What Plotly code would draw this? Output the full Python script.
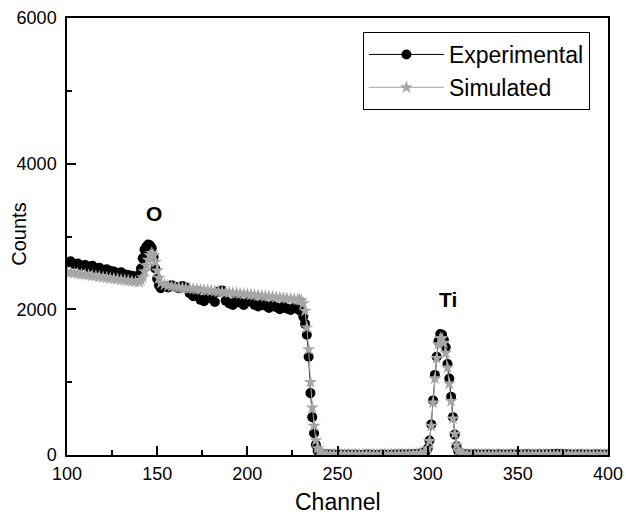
import plotly.graph_objects as go

channel = (list(range(100, 140, 2)) + list(range(140, 153)) + list(range(154, 228, 2))
           + list(range(228, 243)) + list(range(244, 298, 2)) + list(range(298, 321))
           + list(range(322, 401, 2)))

experimental = [
    2640, 2660, 2620, 2630, 2600, 2610, 2580, 2600, 2560, 2570, 2540, 2550, 2530, 2520, 2500, 2510, 2480, 2470, 2460, 2450,
    2470, 2560, 2700, 2820, 2860, 2890, 2880, 2840, 2720, 2560, 2420, 2330, 2290,
    2320, 2300, 2330, 2310, 2290, 2320, 2300, 2220, 2180, 2250, 2130, 2110, 2200, 2150, 2100, 2240, 2260, 2120, 2080,
    2060, 2150, 2090, 2060, 2100, 2140, 2060, 2040, 2090, 2050, 2020, 2060, 2030, 2000, 2040, 2010, 1990, 2020,
    2000, 1990, 1970, 1900, 1800, 1650, 1350, 850, 520, 300, 140, 60, 30, 15, 10,
    10, 8, 6, 5, 8, 4, 6, 5, 7, 4, 5, 6, 8, 5, 4, 6, 7, 5, 6, 8, 6, 9, 7, 10, 12, 15, 20,
    30, 50, 90, 200, 420, 750, 1100, 1350, 1560, 1660, 1650, 1580, 1480, 1250, 1050, 800, 520, 280, 120, 50, 25, 15, 10,
    10, 8, 9, 7, 8, 6, 9, 7, 8, 10, 7, 8, 9, 6, 8, 7, 9, 10, 8, 7, 9, 8, 10, 12, 15, 18, 14, 10, 9, 8, 7, 9, 8, 6, 8, 7, 9, 8, 7, 8,
]

simulated = [
    2510, 2503, 2497, 2489, 2482, 2476, 2468, 2461, 2455, 2447, 2440, 2434, 2426, 2419, 2413, 2405, 2398, 2392, 2384, 2377,
    2375, 2400, 2440, 2520, 2600, 2680, 2740, 2770, 2740, 2650, 2530, 2430, 2360,
    2340, 2325, 2315, 2305, 2300, 2295, 2290, 2285, 2280, 2275, 2270, 2265, 2260, 2255, 2250, 2245, 2240, 2235, 2230,
    2225, 2220, 2215, 2210, 2205, 2200, 2195, 2190, 2185, 2180, 2175, 2170, 2165, 2160, 2155, 2150, 2145, 2140,
    2135, 2130, 2120, 2080, 1980, 1750, 1450, 1000, 650, 400, 200, 90, 45, 25, 15,
    12, 10, 10, 9, 9, 9, 8, 8, 8, 8, 8, 8, 8, 8, 8, 8, 8, 8, 9, 9, 10, 10, 11, 12, 14, 18, 25,
    25, 45, 90, 190, 400, 720, 1050, 1330, 1520, 1600, 1600, 1540, 1400, 1200, 980, 740, 500, 290, 140, 60, 30, 18, 12,
    10, 9, 9, 8, 8, 8, 8, 8, 8, 8, 8, 8, 8, 8, 8, 8, 8, 8, 8, 8, 8, 8, 8, 8, 8, 8, 8, 8, 8, 8, 8, 8, 8, 8, 8, 8, 8, 8, 8, 8,
]

peak_labels = ["O", "Ti"]
peak_x = [148, 311]
peak_y = [3320, 2130]

FONT = "Liberation Sans, Arial, sans-serif"

fig = go.Figure()
fig.add_trace(go.Scatter(
    x=channel, y=experimental, name="Experimental", mode="lines+markers",
    line=dict(color="black", width=1),
    marker=dict(symbol="circle", size=10, color="black"),
))
fig.add_trace(go.Scatter(
    x=channel, y=simulated, name="Simulated", mode="lines+markers",
    line=dict(color="#a6a6a6", width=1),
    marker=dict(symbol="star", size=10, color="#a6a6a6"),
))

for t, x, y in zip(peak_labels, peak_x, peak_y):
    fig.add_annotation(x=x, y=y, text="<b>%s</b>" % t, showarrow=False,
                       font=dict(family=FONT, size=21, color="black"))

# axis titles placed as annotations for exact positioning
fig.add_annotation(text="Channel", xref="paper", yref="paper", x=0.5, y=-0.108,
                   xanchor="center", yanchor="middle", showarrow=False,
                   font=dict(family=FONT, size=23, color="black"))
fig.add_annotation(text="Counts", xref="paper", yref="paper", x=-0.088, y=0.505,
                   xanchor="center", yanchor="middle", showarrow=False, textangle=-90,
                   font=dict(family=FONT, size=20, color="black"))

axis_common = dict(
    showgrid=False, zeroline=False, showline=True, linecolor="black", linewidth=1.5,
    mirror=True, ticks="inside", ticklen=9, tickwidth=1.5, tickcolor="black",
    tickfont=dict(family=FONT, size=18, color="black"), automargin=False,
)

fig.update_xaxes(range=[100, 400], tickvals=[100, 150, 200, 250, 300, 350, 400],
                 minor=dict(tickvals=[125, 175, 225, 275, 325, 375], ticks="inside",
                            ticklen=5, tickwidth=1.5, tickcolor="black"),
                 ticklabelstandoff=2,
                 **axis_common)
fig.update_yaxes(range=[0, 6000], tickvals=[0, 2000, 4000, 6000],
                 minor=dict(tickvals=[1000, 3000, 5000], ticks="inside",
                            ticklen=5, tickwidth=1.5, tickcolor="black"),
                 ticklabelstandoff=5,
                 **axis_common)

fig.update_layout(
    width=626, height=515,
    margin=dict(l=67, r=18, t=18, b=60),
    plot_bgcolor="white", paper_bgcolor="white",
    font=dict(family=FONT, color="black"),
    showlegend=True,
    legend=dict(x=0.547, y=0.968, xanchor="left", yanchor="top",
                bgcolor="white", bordercolor="black", borderwidth=1,
                font=dict(family=FONT, size=23, color="black"),
                itemwidth=75, tracegroupgap=0),
)

fig.write_html("out.html")
